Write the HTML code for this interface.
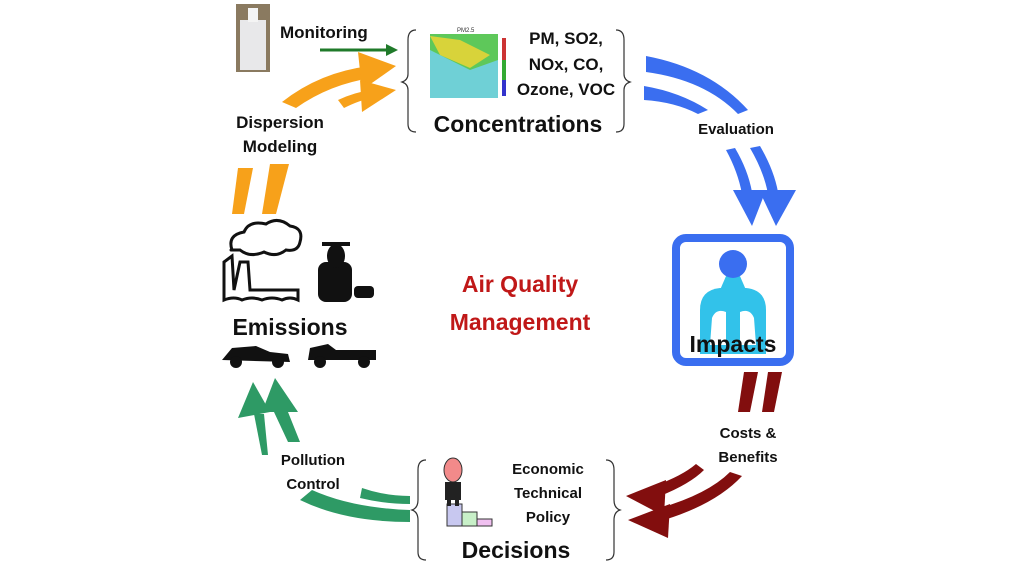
<!DOCTYPE html>
<html><head><meta charset="utf-8"><style>
html,body{margin:0;padding:0;background:#fff;}
svg{display:block;font-family:"Liberation Sans",sans-serif;}
.t{font-weight:bold;fill:#111;}
</style></head><body>
<svg width="1024" height="576" viewBox="0 0 1024 576" xmlns="http://www.w3.org/2000/svg">
<!-- monitor photo -->
<rect x="236" y="4" width="34" height="68" fill="#8a7a60"/>
<rect x="240" y="20" width="26" height="50" fill="#e8e8ea"/>
<rect x="248" y="8" width="10" height="14" fill="#f4f4f4"/>
<text x="280" y="38" class="t" font-size="17">Monitoring</text>
<line x1="320" y1="50" x2="388" y2="50" stroke="#1f7a2a" stroke-width="3"/>
<polygon points="386,44 398,50 386,56" fill="#1f7a2a"/>
<!-- orange -->
<g fill="#f7a11a">
<path d="M282,102 Q320,72 370,66 L372,78 Q330,84 296,108 Z"/>
<polygon points="358,52 396,66 362,90"/>
<path d="M338,100 Q355,92 372,90 L372,98 Q360,100 344,108 Z"/>
<polygon points="360,80 396,90 362,112"/>
<path d="M238,168 L253,168 L244,214 L232,214 Z"/>
<path d="M270,164 L289,164 L276,214 L262,214 Z"/>
</g>
<text x="280" y="128" class="t" font-size="17" text-anchor="middle">Dispersion</text>
<text x="280" y="152" class="t" font-size="17" text-anchor="middle">Modeling</text>
<!-- concentrations -->
<path d="M416,30 Q408,30 408,40 L408,74 Q408,80 402,82 Q408,84 408,90 L408,124 Q408,132 416,132" fill="none" stroke="#333" stroke-width="1.2"/>
<path d="M616,30 Q624,30 624,40 L624,74 Q624,80 630,82 Q624,84 624,90 L624,124 Q624,132 616,132" fill="none" stroke="#333" stroke-width="1.2"/>
<rect x="430" y="34" width="68" height="64" fill="#5ec85a"/>
<path d="M430,50 L470,70 L498,60 L498,98 L430,98 Z" fill="#6fd0d6"/>
<path d="M430,36 L460,40 L490,55 L470,68 L440,55 Z" fill="#d8d33a"/>
<rect x="502" y="38" width="4" height="58" fill="#c33"/>
<rect x="502" y="60" width="4" height="36" fill="#3a3"/>
<rect x="502" y="80" width="4" height="16" fill="#33c"/>
<text x="457" y="32" font-size="6" fill="#333">PM2.5</text>
<text x="566" y="44" class="t" font-size="17" text-anchor="middle">PM, SO2,</text>
<text x="566" y="70" class="t" font-size="17" text-anchor="middle">NOx, CO,</text>
<text x="566" y="95" class="t" font-size="17" text-anchor="middle">Ozone, VOC</text>
<text x="518" y="132" class="t" font-size="23" text-anchor="middle">Concentrations</text>
<!-- blue -->
<g fill="#3a6ef0">
<path d="M646,56 Q710,68 748,110 L738,114 Q705,80 646,72 Z"/>
<path d="M644,86 Q680,92 708,110 L698,114 Q675,102 644,100 Z"/>
<path d="M735,148 Q748,170 752,192 L742,194 Q738,172 726,150 Z"/>
<path d="M760,146 Q774,170 778,192 L768,194 Q764,172 750,148 Z"/>
<polygon points="733,190 766,190 752,226"/>
<polygon points="759,190 796,190 776,226"/>
</g>
<text x="736" y="134" class="t" font-size="15" text-anchor="middle">Evaluation</text>
<!-- impacts -->
<rect x="676" y="238" width="114" height="124" rx="10" fill="#fff" stroke="#3a6ef0" stroke-width="8"/>
<path d="M700,354 L700,310 Q700,290 720,288 L746,288 Q766,290 766,310 L766,354 Z" fill="#32c2ea"/>
<polygon points="733,260 720,290 746,290" fill="#32c2ea"/>
<circle cx="733" cy="264" r="14" fill="#3a6ef0"/>
<path d="M710,345 L712,318 Q716,308 726,312 L726,345 Z M756,345 L754,318 Q750,308 740,312 L740,345 Z" fill="#fff"/>
<text x="733" y="352" class="t" font-size="23" text-anchor="middle">Impacts</text>
<!-- red -->
<g fill="#820e0e">
<path d="M744,372 L758,372 L750,412 L738,412 Z"/>
<path d="M768,372 L782,372 L774,412 L762,412 Z"/>
<path d="M704,470 Q690,484 660,496 L654,486 Q682,476 696,464 Z"/>
<path d="M742,476 Q716,504 664,520 L660,508 Q708,494 730,472 Z"/>
<polygon points="666,480 626,496 664,516"/>
<polygon points="670,504 628,520 668,538"/>
</g>
<text x="748" y="438" class="t" font-size="15" text-anchor="middle">Costs &amp;</text>
<text x="748" y="462" class="t" font-size="15" text-anchor="middle">Benefits</text>
<!-- decisions -->
<path d="M426,460 Q418,460 418,470 L418,500 Q418,508 412,510 Q418,512 418,520 L418,552 Q418,560 426,560" fill="none" stroke="#333" stroke-width="1.2"/>
<path d="M606,460 Q614,460 614,470 L614,500 Q614,508 620,510 Q614,512 614,520 L614,552 Q614,560 606,560" fill="none" stroke="#333" stroke-width="1.2"/>
<rect x="447" y="504" width="15" height="22" fill="#c8c8f0" stroke="#333"/>
<rect x="462" y="512" width="15" height="14" fill="#c8f0c8" stroke="#333"/>
<rect x="477" y="519" width="15" height="7" fill="#f0c0f0" stroke="#333"/>
<ellipse cx="453" cy="470" rx="9" ry="12" fill="#f28a8a" stroke="#333"/>
<rect x="445" y="482" width="16" height="18" fill="#222"/>
<rect x="447" y="500" width="4" height="6" fill="#222"/><rect x="455" y="500" width="4" height="6" fill="#222"/>
<text x="548" y="474" class="t" font-size="15" text-anchor="middle">Economic</text>
<text x="548" y="498" class="t" font-size="15" text-anchor="middle">Technical</text>
<text x="548" y="522" class="t" font-size="15" text-anchor="middle">Policy</text>
<text x="516" y="558" class="t" font-size="23" text-anchor="middle">Decisions</text>
<!-- green -->
<g fill="#2e9a65">
<path d="M300,500 Q345,522 410,522 L410,510 Q352,508 312,490 Z"/>
<path d="M362,488 Q385,496 410,496 L410,504 Q385,504 360,498 Z"/>
<path d="M254,414 L264,414 L268,455 L262,455 Z"/>
<path d="M274,412 L288,412 L300,442 L288,442 Z"/>
<polygon points="253,382 238,418 270,412"/>
<polygon points="275,378 262,412 298,412"/>
</g>
<text x="313" y="465" class="t" font-size="15" text-anchor="middle">Pollution</text>
<text x="313" y="489" class="t" font-size="15" text-anchor="middle">Control</text>
<!-- emissions -->
<path d="M232,250 q-5,-15 12,-18 q5,-12 22,-8 q12,-8 24,2 q14,2 10,16 q-2,10 -14,8 q-10,8 -22,2 q-14,6 -24,-2 q-12,0 -8,0 Z" fill="#fff" stroke="#111" stroke-width="3"/>
<path d="M224,300 L224,262 L232,256 L234,290 L240,262 L248,262 L250,290 L258,290 L298,290 L298,300 Q290,296 282,300 Q272,296 262,300 Q252,296 242,300 Q234,296 224,300 Z" fill="#fff" stroke="#111" stroke-width="3"/>
<g fill="#111">
<rect x="318" y="262" width="34" height="40" rx="8"/>
<ellipse cx="336" cy="256" rx="9" ry="12"/>
<rect x="322" y="242" width="28" height="4"/>
<rect x="354" y="286" width="20" height="12" rx="4"/>
<path d="M222,360 L232,348 L256,346 L270,352 L288,354 L290,362 Z"/>
<circle cx="236" cy="362" r="6"/><circle cx="278" cy="362" r="6"/>
<path d="M308,360 L310,348 L328,344 L336,350 L376,350 L376,360 Z"/>
<circle cx="320" cy="362" r="6"/><circle cx="364" cy="362" r="6"/>
</g>
<text x="290" y="335" class="t" font-size="23" text-anchor="middle">Emissions</text>
<!-- center -->
<text x="520" y="292" font-size="23" font-weight="bold" fill="#c01818" text-anchor="middle">Air Quality</text>
<text x="520" y="330" font-size="23" font-weight="bold" fill="#c01818" text-anchor="middle">Management</text>
</svg>
</body></html>
